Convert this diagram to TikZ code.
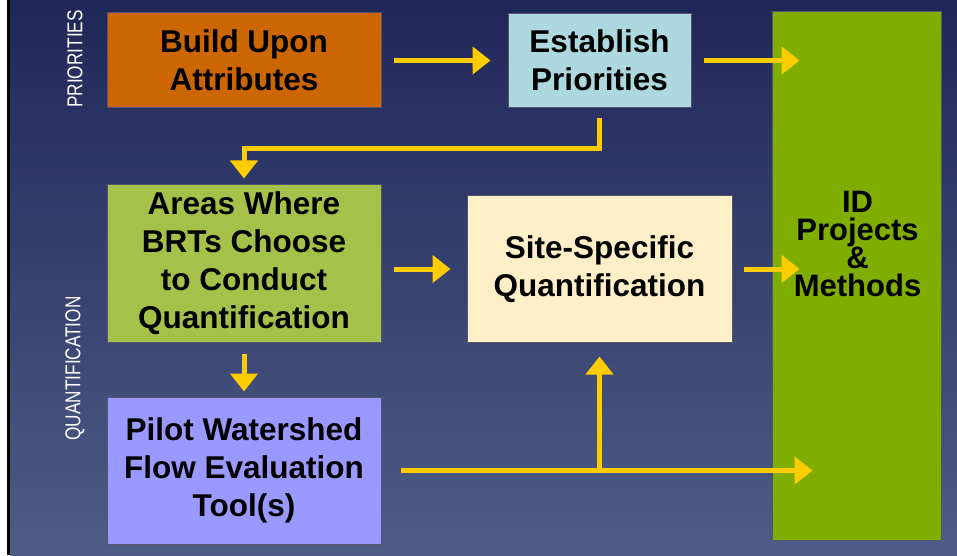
\documentclass[tikz,border=0pt]{standalone}
\usepackage{fontspec}
\setmainfont{Liberation Sans}
\usepackage{graphicx}
\usepackage{xcolor}
\usetikzlibrary{calc, positioning, arrows.meta}

\definecolor{bgtop}{RGB}{31,39,89}
\definecolor{bgbot}{RGB}{79,92,135}
\definecolor{boxline}{RGB}{85,85,110}
\definecolor{flowcol}{RGB}{255,204,0}
\definecolor{buildcol}{RGB}{204,102,0}
\definecolor{estcol}{RGB}{173,216,223}
\definecolor{areacol}{RGB}{166,193,74}
\definecolor{sitecol}{RGB}{255,239,200}
\definecolor{pilotcol}{RGB}{153,153,255}
\definecolor{idcol}{RGB}{128,174,0}

\tikzset{
	box/.style={draw=boxline, line width=1pt, align=center, inner sep=0pt, font=\bfseries\fontsize{31.5}{38}\selectfont},
	flow/.style={draw=flowcol, line width=5pt, -{Triangle[width=27pt,length=18pt]}},
	side/.style={text=white, rotate=90, inner sep=0pt, font=\fontsize{21.5}{21.5}\selectfont},
}

\begin{document}
\begin{tikzpicture}
			[x=1pt, y=1pt, node distance=76pt]
		% background %
		\fill[white] (0,0) rectangle (957,555);
		\shade[top color=bgtop, bottom color=bgbot] (10,0) rectangle (957,555);
		\fill[black] (7,0) rectangle (10,555);
		\useasboundingbox (0,0) rectangle (957,555);

		% nodes %
		\node[box, fill=buildcol, minimum width=274pt, minimum height=95pt] (build) at (244,494.5) {Build Upon\\Attributes};
		\node[box, fill=estcol, minimum width=183pt, minimum height=94pt, right=126pt of build] (establish) {Establish\\Priorities};
		\node[box, fill=areacol, minimum width=274pt, minimum height=157pt, below=of build] (areas) {Areas Where\\BRTs Choose\\to Conduct\\Quantification};
		\node[box, fill=sitecol, minimum width=265pt, minimum height=146pt, right=85pt of areas, yshift=-5.5pt] (site) {Site-Specific\\Quantification};
		\node[box, fill=pilotcol, minimum width=274pt, minimum height=147pt, below=54pt of areas] (pilot) {Pilot Watershed\\Flow Evaluation\\Tool(s)};
		\node[box, fill=idcol, minimum width=169pt, minimum height=528pt] (id) at (856.5,279) {};
		\node[align=center, inner sep=0pt, font=\bfseries\fontsize{31}{28}\selectfont] (idtext) at ($(id.center)+(1,32)$) {ID\\Projects\\\&\\Methods};

		\node[side] (prio) at (75,496) {\scalebox{0.8}[1]{PRIORITIES}};
		\node[side] (quant) at (75,186.5) {\scalebox{0.8}[1]{QUANTIFICATION}};

		% edges %
		\draw[flow, shorten <=12pt, shorten >=17pt] (build) -- (establish);
		\draw[flow, shorten <=12pt, shorten >=-28pt] (establish) -- (establish -| id.west);
		\draw[flow, shorten <=10pt, shorten >=6pt] (establish.south) -- ++(0,-41) -| (areas.north);
		\draw[flow, shorten <=12pt, shorten >=16pt] (areas.east |- site) -- (site);
		\draw[flow, shorten <=11pt, shorten >=-28pt] (site) -- (site -| id.west);
		\draw[flow, shorten <=11pt, shorten >=5pt] (areas) -- (pilot);
		\coordinate (fork) at (site.south |- pilot.east);
		\draw[flow, shorten <=19pt, shorten >=-41pt] (pilot) -- (pilot -| id.west);
		\draw[flow, shorten >=14pt] (fork) -- (site.south);
		\end{tikzpicture}
\end{document}
